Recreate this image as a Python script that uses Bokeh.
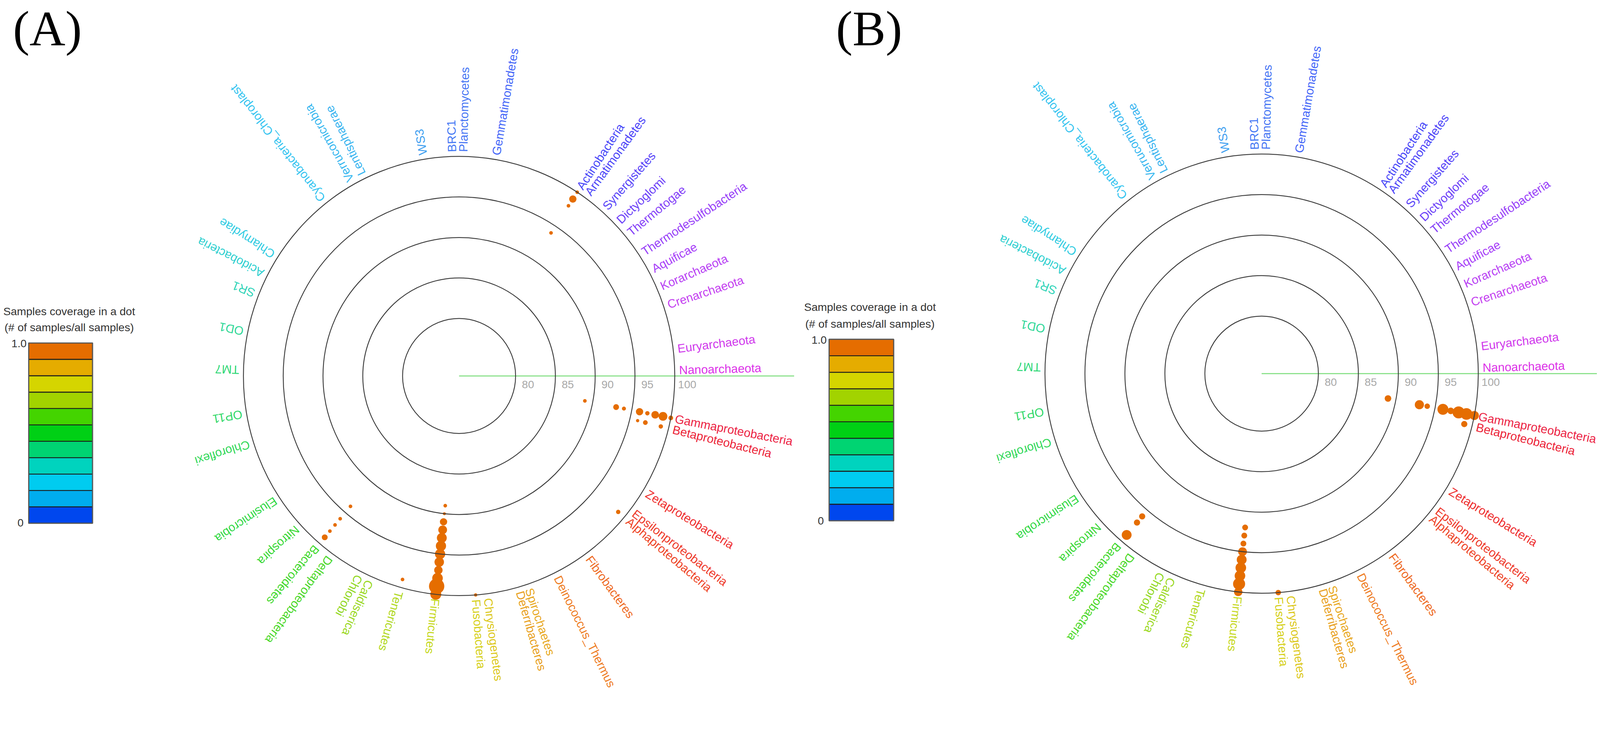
import math
from bokeh.plotting import figure
from bokeh.layouts import row
from bokeh.models import ColumnDataSource
from bokeh.core.properties import value
from bokeh.embed import file_html
from bokeh.resources import INLINE

# ---------------- data ----------------
phyla = ["Gammaproteobacteria", "Betaproteobacteria", "Zetaproteobacteria", "Epsilonproteobacteria",
         "Alphaproteobacteria", "Fibrobacteres", "Deinococcus_Thermus", "Deferribacteres", "Spirochaetes",
         "Chrysiogenetes", "Fusobacteria", "Firmicutes", "Tenericutes", "Chlorobi", "Caldiserica",
         "Deltaproteobacteria", "Bacteroidetes", "Nitrospira", "Elusimicrobia", "Chloroflexi", "OP11",
         "TM7", "OD1", "SR1", "Acidobacteria", "Chlamydiae", "Cyanobacteria_Chloroplast",
         "Verrucomicrobia", "Lentisphaerae", "WS3", "BRC1", "Planctomycetes", "Gemmatimonadetes",
         "Actinobacteria", "Armatimonadetes", "Synergistetes", "Dictyoglomi", "Thermotogae",
         "Thermodesulfobacteria", "Aquificae", "Korarchaeota", "Crenarchaeota", "Euryarchaeota",
         "Nanoarchaeota"]
# angular position of every phylum (degrees, counter-clockwise from the green axis)
phylum_angle = [-11.0, -13.8, -31.5, -37.5, -40.0, -54.0, -63.5, -74.0, -71.5, -82.5, -85.6, -96.2,
                -105.8, -117.0, -114.0, -126.0, -130.3, -137.3, -146.4, -162.3, -170.2, 178.4, 168.5,
                158.4, 152.9, 147.4, 128.3, 119.5, 116.1, 99.4, 91.8, 88.9, 80.3, 56.8, 54.2, 48.5,
                43.6, 39.5, 33.4, 28.4, 23.5, 18.5, 7.0, 1.5]
phylum_color = ["#EC2444", "#EC2438", "#EE2E2E", "#EE3A2A", "#EE4426", "#EE6A22", "#EE7C22",
                "#E8A020", "#E8A820", "#DCC81A", "#D6D01A", "#C6D820", "#B0D820", "#90D820",
                "#9AD820", "#4AD828", "#40D82C", "#38D834", "#30D844", "#30D858", "#30D868",
                "#30D878", "#30D898", "#30D4B8", "#30D0D0", "#30CCE2", "#34C4F0", "#38B8F0",
                "#38B4F0", "#40A0F0", "#4478F4", "#4474F4", "#4466F8", "#4848F8", "#4C44F8",
                "#5844F8", "#6C40F8", "#8440F8", "#9840F8", "#A840F8", "#B840F4", "#C440F0",
                "#D038EC", "#DC30E8"]

ring_values = [80, 85, 90, 95, 100]
ring_labels = ["80", "85", "90", "95", "100"]
radial_origin = 72.9          # identity value at the centre
axis_end = 115                # green reference line end (identity units)

# panel A dots
a_phylum = ["Actinobacteria", "Actinobacteria", "Actinobacteria", "Actinobacteria",
            "Gammaproteobacteria", "Gammaproteobacteria", "Gammaproteobacteria", "Gammaproteobacteria",
            "Gammaproteobacteria", "Gammaproteobacteria", "Gammaproteobacteria", "Gammaproteobacteria",
            "Betaproteobacteria", "Betaproteobacteria", "Betaproteobacteria",
            "Alphaproteobacteria", "Fusobacteria",
            "Firmicutes", "Firmicutes", "Firmicutes", "Firmicutes", "Firmicutes", "Firmicutes",
            "Firmicutes", "Firmicutes", "Firmicutes", "Firmicutes", "Firmicutes", "Firmicutes",
            "Tenericutes",
            "Bacteroidetes", "Bacteroidetes", "Bacteroidetes", "Bacteroidetes", "Bacteroidetes"]
a_identity = [100, 99, 98, 94,
              89, 93, 94, 96, 97, 98, 99, 100,
              96, 97, 99,
              99, 100,
              89, 90, 91, 92, 93, 94, 95, 96, 97, 98, 99, 100,
              99,
              94, 96, 97, 98, 99]
a_abundance = [10, 20, 10, 10,
               10, 16, 11, 20, 12, 21, 24, 13,
               9, 13, 12,
               12, 9,
               10, 8, 20, 24, 27, 28, 28, 26, 23, 29, 42, 30,
               10,
               10, 10, 10, 10, 16]
a_coverage = [1.0, 1.0, 1.0, 1.0,
              1.0, 1.0, 1.0, 1.0, 1.0, 1.0, 1.0, 1.0,
              1.0, 1.0, 1.0,
              1.0, 1.0,
              1.0, 1.0, 1.0, 1.0, 1.0, 1.0, 1.0, 1.0, 1.0, 1.0, 1.0, 1.0,
              1.0,
              1.0, 1.0, 1.0, 1.0, 1.0]

# panel B dots
b_phylum = ["Gammaproteobacteria", "Gammaproteobacteria", "Gammaproteobacteria", "Gammaproteobacteria",
            "Gammaproteobacteria", "Gammaproteobacteria", "Gammaproteobacteria", "Gammaproteobacteria",
            "Betaproteobacteria",
            "Bacteroidetes", "Bacteroidetes", "Bacteroidetes",
            "Firmicutes", "Firmicutes", "Firmicutes", "Firmicutes", "Firmicutes", "Firmicutes",
            "Firmicutes", "Firmicutes", "Firmicutes",
            "Fusobacteria"]
b_identity = [89, 93, 94, 96, 97, 98, 99, 100,
              99,
              96, 97, 99,
              92, 93, 94, 95, 96, 97, 98, 99, 100,
              100]
b_abundance = [18, 25, 15, 30, 18, 33, 32, 25,
               17,
               17, 17, 27,
               16, 16, 16, 24, 27, 29, 29, 33, 23,
               15]
b_coverage = [1.0, 1.0, 1.0, 1.0, 1.0, 1.0, 1.0, 1.0,
              1.0,
              1.0, 1.0, 1.0,
              1.0, 1.0, 1.0, 1.0, 1.0, 1.0, 1.0, 1.0, 1.0,
              1.0]

# colour scale: samples coverage, bins from 0 (bottom) to 1.0 (top)
cb_colors = ["#0047EE", "#00ADEE", "#00CCF0", "#00D3BE", "#00D472", "#00D015",
             "#44D400", "#A2D300", "#D5D500", "#E5AC00", "#E56D00"]
cb_title = ["Samples coverage in a dot", "(# of samples/all samples)"]
cb_tick_labels = ["0", "1.0"]

# ---------------- styling helpers ----------------
FONT = "Liberation Sans"
K = 1.0 / 1.07      # page pixels per reference pixel


def px(v):
    return "%.1fpx" % (v * K)


def cov_color(c):
    i = min(int(c * len(cb_colors)), len(cb_colors) - 1)
    return cb_colors[i]


phylum_index = {p: i for i, p in enumerate(phyla)}


def make_panel(letter, width, cx, cy, sx, sy, dots, cb_box, title_y, tick_pos, letter_x):
    height = 1890
    w_css = int(round(width * K))
    h_css = int(round(height * K))
    xs = -cx / sx
    xe = xs + (w_css / K) / sx
    ye = cy / sy
    ys = ye - (h_css / K) / sy

    def lx(p_):
        return xs + p_ / sx

    def ly(p_):
        return ye - p_ / sy

    p = figure(width=w_css, height=h_css, x_range=(xs, xe), y_range=(ys, ye),
               output_backend="svg", toolbar_location=None, min_border=0,
               x_axis_type=None, y_axis_type=None, outline_line_color=None,
               background_fill_color="white", border_fill_color="white")
    p.grid.visible = False

    # green reference axis
    p.line(x=[0, axis_end - radial_origin], y=[0, 0], line_color="#86E086", line_width=3 * K)

    # dots
    ph, iv, ab, cv = dots
    ang = [math.radians(phylum_angle[phylum_index[q]]) for q in ph]
    rr = [v - radial_origin for v in iv]
    src = ColumnDataSource(dict(
        x=[r * math.cos(a) for r, a in zip(rr, ang)],
        y=[r * math.sin(a) for r, a in zip(rr, ang)],
        size=[s * K for s in ab],
        color=[cov_color(c) for c in cv]))
    p.scatter(x="x", y="y", size="size", fill_color="color", line_color=None, source=src)

    # rings
    rsrc = ColumnDataSource(dict(x=[0] * len(ring_values), y=[0] * len(ring_values),
                                 d=[2 * (v - radial_origin) for v in ring_values]))
    p.ellipse(x="x", y="y", width="d", height="d", fill_color=None, line_color="#3a3a3a",
              line_width=2.4 * K, source=rsrc)

    # ring tick labels
    tsrc = ColumnDataSource(dict(x=[(v - radial_origin) + 34.0 / sx for v in ring_values],
                                 y=[-23.5 / sy] * len(ring_values), t=ring_labels))
    p.text(x="x", y="y", text="t", source=tsrc, text_color="#A8A8A8",
           text_font=value(FONT), text_font_size=px(30), text_align="center",
           text_baseline="middle")

    # phylum labels
    R = (ring_values[-1] - radial_origin) + 12.0 / sx
    la = [math.radians(a) for a in phylum_angle]
    lsrc = ColumnDataSource(dict(x=[R * math.cos(a) for a in la], y=[R * math.sin(a) for a in la],
                                 t=phyla, a=la, c=phylum_color))
    p.text(x="x", y="y", text="t", angle="a", text_color="c", source=lsrc,
           text_font=value(FONT), text_font_size=px(33), text_align="left",
           text_baseline="middle")

    # colour bar
    left, right, top, bottom = cb_box
    n = len(cb_colors)
    edges = [ly(bottom) + (ly(top) - ly(bottom)) * k / n for k in range(n + 1)]
    qsrc = ColumnDataSource(dict(left=[lx(left)] * n, right=[lx(right)] * n,
                                 bottom=edges[:-1], top=edges[1:], c=cb_colors))
    p.quad(left="left", right="right", bottom="bottom", top="top", fill_color="c",
           line_color="#1c1c1c", line_width=2.5 * K, source=qsrc)
    p.quad(left=[lx(left)], right=[lx(right)], bottom=[ly(bottom)], top=[ly(top)],
           fill_color=None, line_color="#5a5a5a", line_width=3 * K)

    p.text(x=[lx(189), lx(189)], y=[ly(title_y[0]), ly(title_y[1])], text=cb_title,
           text_color="#333333", text_font=value(FONT), text_font_size=px(30.5),
           text_align="center", text_baseline="middle")
    (x0, y0), (x1, y1) = tick_pos
    p.text(x=[lx(x0), lx(x1)], y=[ly(y0), ly(y1)], text=cb_tick_labels,
           text_color="#333333", text_font=value(FONT), text_font_size=px(30),
           text_align="right", text_baseline="middle")

    # panel letter
    p.text(x=[lx(letter_x)], y=[ly(78)], text=[letter], text_color="black",
           text_font=value("Liberation Serif"), text_font_size=px(136),
           text_align="left", text_baseline="middle")
    return p


pa = make_panel("(A)", 2194, 1257.0, 1029.5, 21.8, 22.2,
                (a_phylum, a_identity, a_abundance, a_coverage),
                (78, 253, 939, 1433), (851.8, 896.5), ((64, 1432), (72.4, 941)), 35)
pb = make_panel("(B)", 2181, 1261.8, 1023.0, 21.9, 22.2,
                (b_phylum, b_identity, b_abundance, b_coverage),
                (77, 254, 929, 1426), (841, 887), ((62.8, 1426), (70.5, 930.5)), 96)

layout = row(pa, pb, spacing=0)
open("out.html", "w").write(file_html(layout, INLINE))
